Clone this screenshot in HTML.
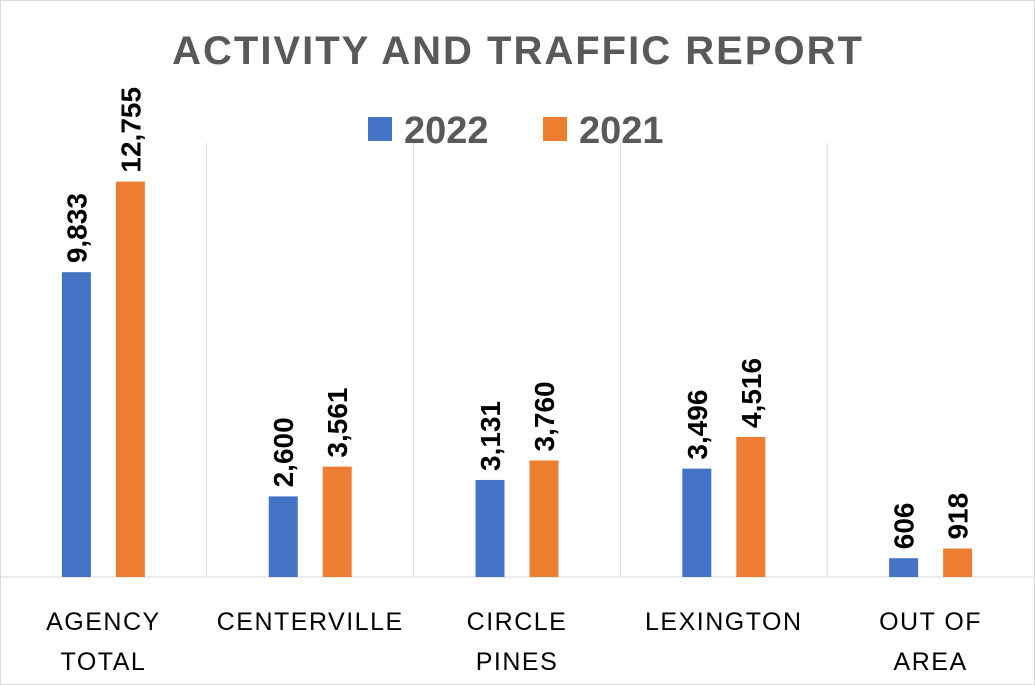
<!DOCTYPE html>
<html><head><meta charset="utf-8"><style>
body{margin:0;background:#fff}
svg{display:block;font-family:"Liberation Sans",sans-serif}
</style></head><body>
<svg id="chart" width="1035" height="685" viewBox="0 0 1035 685">
<rect x="0.5" y="0.5" width="1034" height="684" fill="#fff" stroke="#d9d9d9"/>
<text x="518" y="64" text-anchor="middle" font-size="40" font-weight="bold" fill="#595959" letter-spacing="2">ACTIVITY AND TRAFFIC REPORT</text>
<g>
<rect x="368" y="117" width="24" height="24" fill="#4472c4"/>
<text x="404" y="143" font-size="38" font-weight="bold" fill="#595959">2022</text>
<rect x="543" y="117" width="24" height="24" fill="#ed7d31"/>
<text x="579" y="143" font-size="38" font-weight="bold" fill="#595959">2021</text>
</g>
<g id="plot"></g>
</svg>
<script>
const categories=[["AGENCY","TOTAL"],["CENTERVILLE"],["CIRCLE","PINES"],["LEXINGTON"],["OUT OF","AREA"]];
const values2022=[9833,2600,3131,3496,606];
const values2021=[12755,3561,3760,4516,918];
const yMax=14000;
{
const plotLeft=0,plotRight=1034,plotTop=143,plotBottom=577;
const bw=(plotRight-plotLeft)/categories.length;
const yScale=v=>plotBottom-(v/yMax)*(plotBottom-plotTop);
const xc=i=>plotLeft+bw*(i+0.5);
const NS="http://www.w3.org/2000/svg";
const g=document.getElementById('plot');
function mk(t,a){const e=document.createElementNS(NS,t);for(const k in a)e.setAttribute(k,a[k]);g.appendChild(e);return e;}
for(let i=1;i<categories.length;i++){
 const l=mk('line',{x1:plotLeft+bw*i,x2:plotLeft+bw*i,y1:plotTop,y2:plotBottom,stroke:'#d9d9d9','stroke-width':1});
 
 
}
const ax=mk('line',{x1:plotLeft,x2:plotRight,y1:plotBottom,y2:plotBottom,stroke:'#d9d9d9','stroke-width':1});


const fmt=v=>v.toLocaleString('en-US');
const series=[[values2022,'#4472c4',-27,'2022'],[values2021,'#ed7d31',27,'2021']];
categories.forEach((c,i)=>{
 series.forEach(([vals,col,off,nm])=>{
  const cx=xc(i)+off,v=vals[i];
  const r=mk('rect',{x:cx-14.5,y:yScale(v),width:29,height:plotBottom-yScale(v),fill:col});
  
  
  const t=mk('text',{x:0,y:0,'font-size':28,'font-weight':'bold',fill:'#000',transform:`translate(${cx+10},${yScale(v)-9}) rotate(-90)`});
  t.textContent=fmt(v);
  
  
 });
 c.forEach((line,j)=>{
  const t=mk('text',{x:xc(i),y:630+j*40,'text-anchor':'middle','font-size':25,fill:'#000','letter-spacing':1.5});
  t.textContent=line;
  
  
 });
});
}
</script>
</body></html>
